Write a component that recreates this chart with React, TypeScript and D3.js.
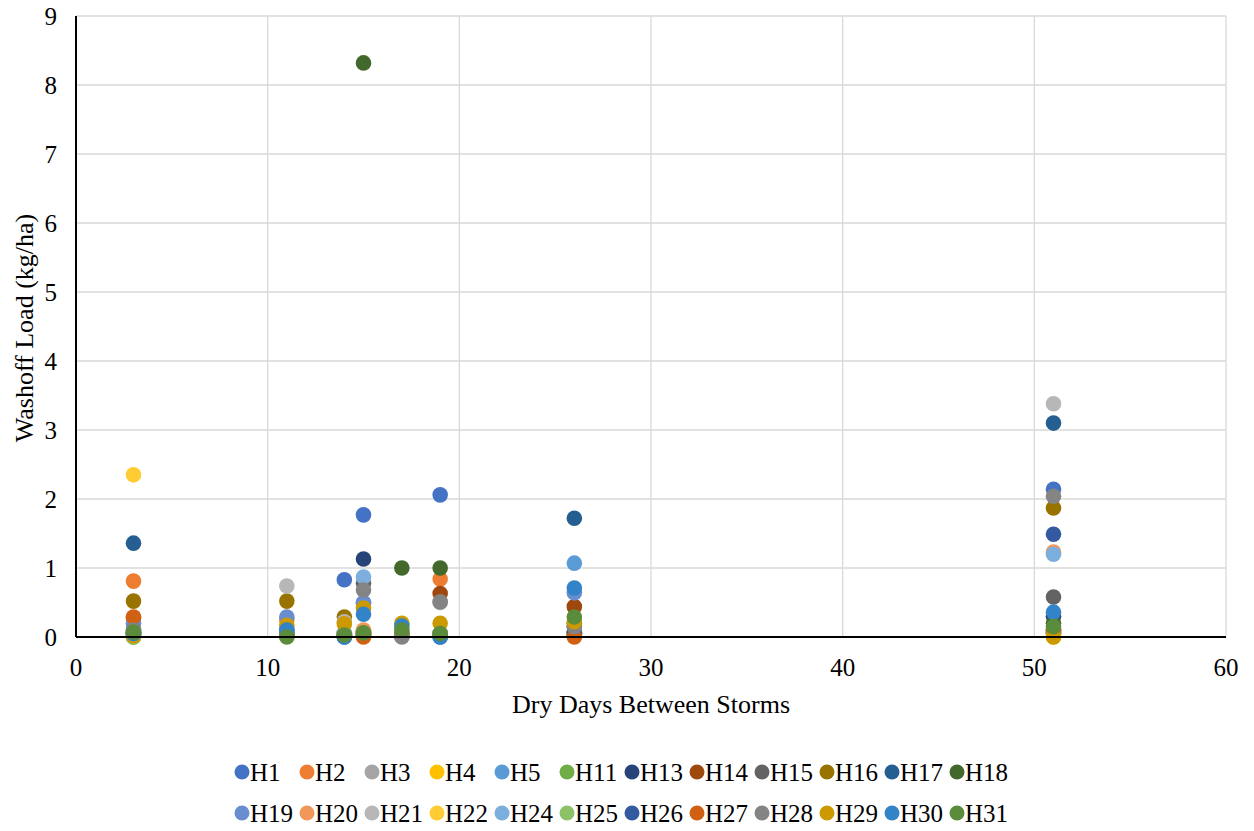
import React from 'react';
import * as d3 from 'd3';

// dry days before each storm
const dryDays = [3, 11, 14, 15, 17, 19, 26, 51];

const seriesNames = ['H1', 'H2', 'H3', 'H4', 'H5', 'H11', 'H13', 'H14', 'H15', 'H16', 'H17', 'H18',
  'H19', 'H20', 'H21', 'H22', 'H24', 'H25', 'H26', 'H27', 'H28', 'H29', 'H30', 'H31'];

const seriesColors = ['#4472c4', '#ed7d31', '#a5a5a5', '#ffc000', '#5b9bd5', '#70ad47', '#264478', '#9e480e',
  '#636363', '#997300', '#255e91', '#43682b', '#698ed0', '#f1975a', '#b7b7b7', '#ffcd33', '#7cafdd', '#8cc168',
  '#335aa1', '#d26012', '#848484', '#cc9a00', '#3283c8', '#5b8c3c'];

// washoff load (kg/ha), one value per dry-day entry
const H1 = [0.05, 0.02, 0.83, 1.77, 0.02, 2.06, 0.05, 2.14];
const H2 = [0.81, 0.25, 0.03, 0.05, 0.02, 0.84, 0.03, 0.1];
const H3 = [0.02, 0.05, 0.02, 0.05, 0.01, 0.5, 0.02, 0.05];
const H4 = [0.0, 0.02, 0.01, 0.02, 0.01, 0.02, 0.01, 0.0];
const H5 = [0.03, 0.04, 0.02, 0.5, 0.02, 0.03, 1.07, 0.05];
const H11 = [0.0, 0.01, 0.01, 0.02, 0.01, 0.02, 0.02, 0.05];
const H13 = [0.05, 0.05, 0.02, 1.13, 0.05, 0.02, 0.05, 0.3];
const H14 = [0.28, 0.05, 0.03, 0.05, 0.03, 0.63, 0.44, 0.1];
const H15 = [0.05, 0.05, 0.02, 0.78, 0.02, 0.03, 0.15, 0.58];
const H16 = [0.52, 0.52, 0.29, 0.08, 0.05, 0.03, 0.05, 1.87];
const H17 = [1.36, 0.1, 0.05, 0.05, 0.05, 0.03, 1.72, 3.1];
const H18 = [0.05, 0.03, 0.03, 8.32, 1.0, 1.0, 0.2, 0.2];
const H19 = [0.2, 0.29, 0.05, 0.49, 0.05, 0.05, 0.64, 0.05];
const H20 = [0.05, 0.05, 0.05, 0.1, 0.05, 0.05, 0.05, 1.23];
const H21 = [0.05, 0.74, 0.22, 0.05, 0.05, 0.05, 0.05, 3.38];
const H22 = [2.35, 0.05, 0.05, 0.05, 0.05, 0.05, 0.05, 0.05];
const H24 = [0.05, 0.05, 0.05, 0.87, 0.05, 0.05, 0.05, 1.2];
const H25 = [0.0, 0.01, 0.01, 0.02, 0.02, 0.02, 0.05, 0.1];
const H26 = [0.1, 0.02, 0.0, 0.02, 0.02, 0.0, 0.05, 1.49];
const H27 = [0.29, 0.02, 0.01, 0.0, 0.02, 0.02, 0.0, 0.1];
const H28 = [0.1, 0.05, 0.02, 0.68, 0.0, 0.51, 0.15, 2.04];
const H29 = [0.02, 0.17, 0.19, 0.42, 0.2, 0.2, 0.22, 0.0];
const H30 = [0.05, 0.1, 0.0, 0.33, 0.16, 0.0, 0.71, 0.36];
const H31 = [0.07, 0.0, 0.03, 0.06, 0.1, 0.05, 0.29, 0.15];

const seriesValues = [H1, H2, H3, H4, H5, H11, H13, H14, H15, H16, H17, H18,
  H19, H20, H21, H22, H24, H25, H26, H27, H28, H29, H30, H31];

const xTicks = [0, 10, 20, 30, 40, 50, 60];
const yTicks = [0, 1, 2, 3, 4, 5, 6, 7, 8, 9];

const FONT = '"Liberation Serif", "Times New Roman", serif';

export default function App() {
  const width = 1254;
  const height = 831;
  const left = 76, right = 1226, top = 16, bottom = 637;

  const x = d3.scaleLinear().domain([0, 60]).range([left, right]);
  const y = d3.scaleLinear().domain([0, 9]).range([bottom, top]);

  const legendX = (i: number) => 242 + (i % 12) * 65;
  const legendY = (i: number) => (i < 12 ? 772 : 813);

  return (
    <svg width={width} height={height} style={{ position: 'absolute', left: 0, top: 0, background: '#fff' }}
      fontFamily={FONT}>
      <rect width={width} height={height} fill="#fff" />
      {/* gridlines */}
      {yTicks.filter(t => t > 0).map(t => (
        <line key={'gy' + t} x1={left} x2={right} y1={y(t)} y2={y(t)} stroke="#d9d9d9" strokeWidth={1.3} />
      ))}
      {xTicks.filter(t => t > 0).map(t => (
        <line key={'gx' + t} x1={x(t)} x2={x(t)} y1={top} y2={bottom} stroke="#d9d9d9" strokeWidth={1.3} />
      ))}

      {/* points */}
      {seriesValues.map((vals, si) => (
        <g key={seriesNames[si]}>
          {vals.map((v, j) => (
            <circle key={j} cx={x(dryDays[j])} cy={y(v)} r={7.8} fill={seriesColors[si]} />
          ))}
        </g>
      ))}

      {/* axes */}
      <line x1={left} x2={left} y1={top} y2={bottom} stroke="#000" strokeWidth={2} />
      <line x1={left} x2={right} y1={bottom} y2={bottom} stroke="#000" strokeWidth={2} />

      {yTicks.map(t => (
        <text key={'ty' + t} x={57} y={y(t)} dy="0.35em" textAnchor="end" fontSize={25}>{t}</text>
      ))}
      {xTicks.map(t => (
        <text key={'tx' + t} x={x(t)} y={667} dy="0.35em" textAnchor="middle" fontSize={25}>{t}</text>
      ))}

      <text x={651} y={704} dy="0.35em" textAnchor="middle" fontSize={26}>Dry Days Between Storms</text>
      <text transform={`translate(24,328) rotate(-90)`} dy="0.35em" textAnchor="middle" fontSize={26}>
        Washoff Load (kg/ha)
      </text>

      {/* legend */}
      {seriesNames.map((name, i) => (
        <g key={'lg' + name}>
          <circle cx={legendX(i)} cy={legendY(i)} r={7.5} fill={seriesColors[i]} />
          <text x={legendX(i) + 8} y={legendY(i)} dy="0.35em" fontSize={25}>{name}</text>
        </g>
      ))}
    </svg>
  );
}
